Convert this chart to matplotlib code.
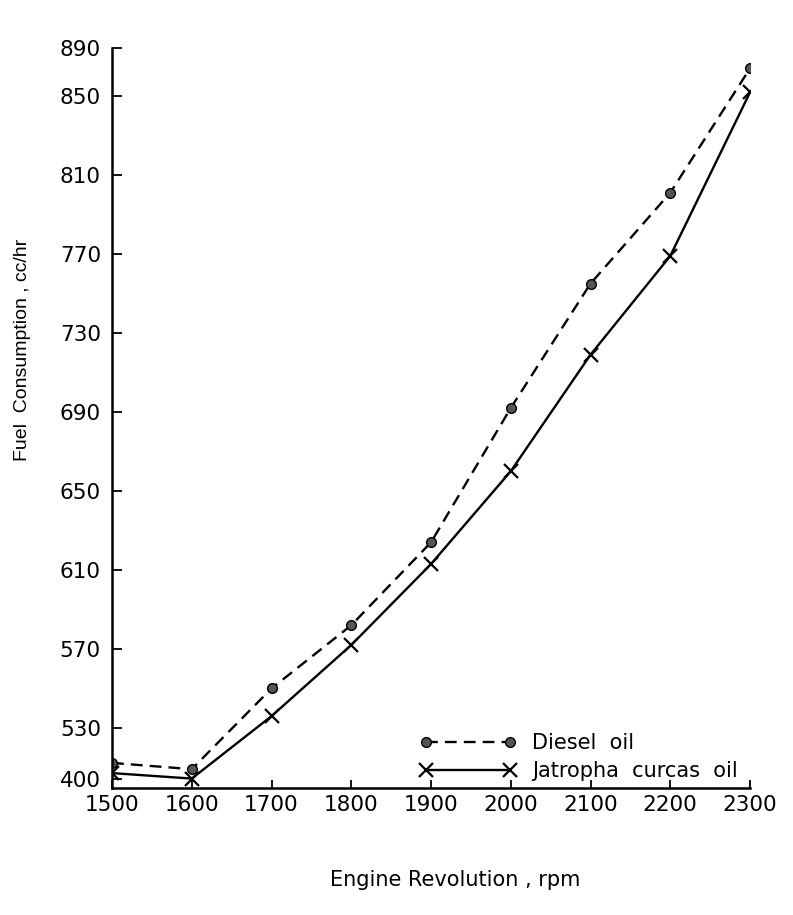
import numpy as np
import matplotlib
matplotlib.use("Agg")
import matplotlib.pyplot as plt

rpm = [1500, 1600, 1700, 1800, 1900, 2000, 2100, 2200, 2300]
diesel = [441, 425, 550, 582, 624, 692, 755, 801, 873]
jatropha = [415, 401, 536, 572, 613, 660, 719, 769, 853]
yticks = [400, 530, 570, 610, 650, 690, 730, 770, 810, 850, 890]
xticks = [1500, 1600, 1700, 1800, 1900, 2000, 2100, 2200, 2300]

# broken (piecewise linear) value axis as drawn in the original
knots_v = np.array([300.0, 400.0, 530.0, 850.0, 890.0, 990.0])
knots_p = np.array([-39.2, 0.0, 51.0, 683.0, 731.0, 851.0])

def fwd(v):
    return np.interp(v, knots_v, knots_p)

def inv(p):
    return np.interp(p, knots_p, knots_v)

W, H = 793, 915
fig = plt.figure(figsize=(W / 100, H / 100), dpi=100)
L, R, T, B = 112, 750, 48, 788
ax = fig.add_axes([L / W, 1 - B / H, (R - L) / W, (B - T) / H])
ax.set_yscale("function", functions=(fwd, inv))

ax.plot(rpm, diesel, color="black", lw=1.7, dashes=(5, 3),
        marker="o", ms=7, mfc="#555555", mec="black", mew=1.0,
        label="Diesel  oil")
ax.plot(rpm, jatropha, color="black", lw=1.7, ls="-",
        marker="x", ms=10, mew=1.6, label="Jatropha  curcas  oil")

ax.set_xlim(1500, 2300)
ax.set_ylim(377, 890)
ax.set_xticks(xticks)
ax.set_xticklabels([str(v) for v in xticks])
ax.set_yticks(yticks)
ax.set_yticklabels([str(v) for v in yticks])
ax.minorticks_off()

for s in ["top", "right"]:
    ax.spines[s].set_visible(False)
for s in ["left", "bottom"]:
    ax.spines[s].set_linewidth(1.8)

tickfont = "DejaVu Sans"
ax.tick_params(axis="x", direction="in", length=6, width=1.3, pad=5,
               labelsize=15.5)
ax.tick_params(axis="y", direction="in", length=7, width=1.3, pad=8,
               labelsize=15.5)
for lab in ax.get_xticklabels() + ax.get_yticklabels():
    lab.set_fontfamily(tickfont)

ax.set_xlabel("Engine Revolution , rpm", fontsize=15, family="DejaVu Sans")
ax.xaxis.set_label_coords((455 - L) / (R - L), -(880 - B) / (B - T))
ax.xaxis.label.set_va("center")
ax.set_ylabel("Fuel  Consumption , cc/hr", fontsize=14, family="Liberation Sans")
ax.yaxis.set_label_coords(-(L - 22) / (R - L), (B - 350) / (B - T))
ax.yaxis.label.set_va("center")

leg = ax.legend(loc="upper left",
                bbox_to_anchor=(420 / W, 1 - 733 / H),
                bbox_transform=fig.transFigure,
                frameon=False, numpoints=2, handlelength=4.6,
                handletextpad=0.8, labelspacing=0.4, borderpad=0,
                borderaxespad=0, prop={"family": "DejaVu Sans", "size": 15})

fig.savefig("out.png", dpi=100)
